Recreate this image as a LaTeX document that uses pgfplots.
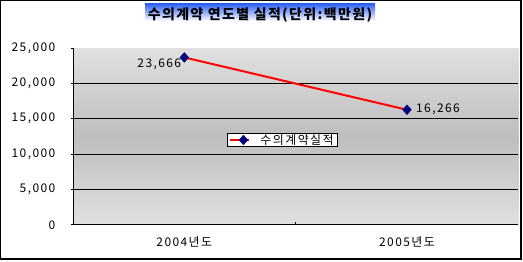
\documentclass[border=0pt]{standalone}
\usepackage{fontspec}
\setmainfont{Noto Sans CJK KR}
\newfontfamily\gul[LetterSpace=12]{Noto Sans CJK KR}
\newfontfamily\gult[LetterSpace=10]{Noto Sans CJK KR}
\usepackage{pgfplots}
\pgfplotsset{compat=1.18}
\definecolor{bglight}{RGB}{224,224,224}
\definecolor{bgdark}{RGB}{190,190,190}
\definecolor{navyblue}{RGB}{0,0,128}
\definecolor{titleblue}{RGB}{45,95,245}

\begin{document}
\begin{tikzpicture}[x=1bp,y=1bp]
\begin{axis}[
  at={(0,0)}, anchor=south west,
  scale only axis, width=445.3bp, height=176.8bp,
  xmin=-0.5, xmax=1.5, ymin=0, ymax=25000,
  axis lines*=left,
  axis line style={black, line width=1bp},
  axis background/.style={top color=bglight, bottom color=bglight, middle color=bgdark},
  scaled y ticks=false,
  ytick={0,5000,10000,15000,20000,25000},
  yticklabel style={font=\gul\fontsize{12}{12}\selectfont, anchor=east, inner sep=0pt, xshift=-15bp,
    /pgf/number format/.cd, fixed, 1000 sep={,}, assume math mode=true},
  extra y ticks={5000,10000,15000,20000},
  extra y tick labels={},
  extra y tick style={grid=major, major tick length=0pt},
  grid style={black, line width=1bp},
  tick style={black, line width=0.8bp},
  major tick length=2.5bp,
  tick align=outside,
  xtick={0.5},
  xticklabels={},
  x tick style={/pgfplots/tick align=inside},
  extra x ticks={0,1},
  extra x tick labels={2004년도,2005년도},
  extra x tick style={major tick length=0pt},
  xticklabel style={font=\gul\fontsize{12}{12}\selectfont, anchor=center, inner sep=0pt, yshift=-17.4bp},
  legend style={at={(0.346,0.517)}, anchor=north west, draw=black, line width=0.8bp, fill=white,
    inner xsep=1.5bp, inner ysep=0pt, font=\gul\fontsize{12}{12}\selectfont,
    nodes={inner xsep=2.5bp, inner ysep=0.5bp}},
  legend image code/.code={
    \draw[#1, mark=none] (0bp,0bp) -- (19bp,0bp);
    \draw[#1] plot coordinates {(13.5bp,0bp)};
  },
  legend cell align=left,
  nodes near coords={\pgfmathprintnumber[fixed, 1000 sep={,}, assume math mode=true]{\pgfplotspointmeta}},
  point meta=y,
]
\addplot[red, line width=2bp, mark=diamond*, mark size=4.8bp,
  mark options={fill=navyblue, draw=navyblue, line width=0.5bp, xscale=1.2},
  nodes near coords=\empty,
] coordinates {(0,23666) (1,16266)};
\addlegendentry{\hspace{8bp}수의계약실적\hspace{5bp}}
\addplot[draw=none, mark=none, forget plot,
  nodes near coords style={anchor=east, xshift=-3bp, yshift=-6.7bp, inner sep=0pt,
    font=\gul\fontsize{12}{12}\selectfont, text=black},
] coordinates {(0,23666)};
\addplot[draw=none, mark=none, forget plot,
  nodes near coords style={anchor=west, xshift=9bp, inner sep=0pt,
    font=\gul\fontsize{12}{12}\selectfont, text=black},
] coordinates {(1,16266)};
\end{axis}
\shade[top color=titleblue, bottom color=white] (72,203.8) rectangle (302,221.3);
\node[font=\gult\bfseries\fontsize{14}{14}\selectfont, inner sep=0pt] at (187,210.1) {수의계약 연도별 실적(단위:백만원)};
\draw[line width=1bp] (-72.5,-34.4) rectangle (448,224.3);
\draw[line width=2bp] (-73,-34.4) -- (448,-34.4) -- (448,224.8);
\pgfresetboundingbox
\useasboundingbox (-73,-36.2) rectangle (450,224.8);
\end{tikzpicture}
\end{document}
